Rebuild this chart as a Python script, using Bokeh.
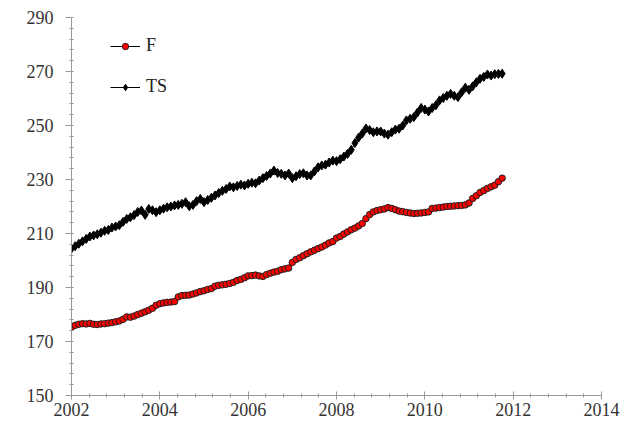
from bokeh.plotting import figure
from bokeh.models import Range1d, FixedTicker, Legend, LegendItem, ColumnDataSource
from bokeh.embed import file_html
from bokeh.resources import INLINE

start_year = 2002
x_ticks = [2002, 2004, 2006, 2008, 2010, 2012, 2014]
y_ticks = [150, 170, 190, 210, 230, 250, 270, 290]

f_values = [
    175.3, 176.0, 176.4, 176.6, 176.5, 176.7, 176.4, 176.3, 176.5, 176.6, 176.8, 177.0,
    177.3, 177.6, 178.2, 179.1, 179.0, 179.4, 180.0, 180.5, 181.0, 181.6, 182.3, 183.4,
    184.0, 184.3, 184.5, 184.6, 184.8, 186.5, 187.0, 187.1, 187.2, 187.6, 188.0, 188.5,
    188.8, 189.3, 189.6, 190.5, 190.8, 191.0, 191.2, 191.5, 191.9, 192.6, 193.0, 193.6,
    194.3, 194.4, 194.6, 194.3, 194.1, 194.8, 195.3, 195.7, 196.0, 196.6, 196.9, 197.2,
    199.3, 200.4, 201.0, 201.8, 202.5, 203.2, 203.8, 204.4, 205.0, 205.7, 206.5, 207.0,
    208.3, 208.9, 209.8, 210.6, 211.4, 212.0, 212.8, 213.7, 215.5, 217.0, 218.0, 218.5,
    218.8, 219.1, 219.6, 219.3, 218.8, 218.3, 218.1, 217.8, 217.6, 217.4, 217.5, 217.6,
    217.8, 218.0, 219.3, 219.4, 219.6, 219.8, 220.0, 220.1, 220.2, 220.3, 220.4, 220.6,
    221.3, 223.0, 224.0, 225.2, 225.9, 226.7, 227.3, 227.9, 229.2, 230.5,
]

ts_values = [
    204.4, 205.3, 206.2, 207.1, 208.0, 208.9, 209.3, 209.7, 210.3, 211.0, 211.3, 212.2,
    212.6, 213.1, 214.3, 215.4, 216.0, 216.8, 218.0, 218.5, 216.9, 219.1, 218.6, 217.9,
    218.6, 219.2, 219.7, 220.0, 220.4, 220.6, 221.0, 221.6, 220.1, 220.6, 222.0, 222.8,
    221.6, 222.4, 223.2, 224.1, 225.0, 225.8, 226.5, 227.4, 227.1, 227.6, 228.1, 227.8,
    228.4, 228.8, 228.6, 229.6, 230.5, 231.3, 232.2, 233.3, 232.4, 232.1, 231.5, 232.2,
    230.5, 231.2, 232.0, 232.3, 231.5, 231.5, 233.0, 234.5, 235.2, 235.5, 236.3, 237.0,
    236.8, 237.5, 238.5, 239.5, 241.0, 243.5, 245.5, 247.0, 248.9, 248.3, 247.5, 247.8,
    247.8, 247.0, 246.6, 247.5, 248.5, 248.8, 250.0, 251.9, 252.5, 253.1, 254.8, 256.5,
    255.9, 255.2, 256.5, 257.5, 259.3, 260.2, 261.0, 261.7, 261.0, 260.5, 262.3, 264.0,
    263.2, 264.5, 266.0, 267.3, 268.0, 268.9, 268.5, 269.0, 269.1, 269.2,
]

t = [start_year + i / 12 for i in range(len(f_values))]
src = ColumnDataSource(dict(t=t, f=f_values, ts=ts_values))

FONT = "'Liberation Serif', 'Times New Roman', serif"

p = figure(width=632, height=439, output_backend="svg", toolbar_location=None,
           x_range=Range1d(2002, 2014), y_range=Range1d(150, 290),
           min_border_left=71, min_border_right=31, min_border_top=17, min_border_bottom=44)
p.outline_line_color = None
p.xgrid.visible = False
p.ygrid.visible = False
p.background_fill_color = "white"
p.border_fill_color = "white"

x_minor = [2002 + k * 0.4 for k in range(31)]
y_minor = [150 + k * 4 for k in range(36)]
p.xaxis.ticker = FixedTicker(ticks=x_ticks, minor_ticks=x_minor)
p.yaxis.ticker = FixedTicker(ticks=y_ticks, minor_ticks=y_minor)

for ax in (p.xaxis[0], p.yaxis[0]):
    ax.axis_line_color = "#9a9a9a"
    ax.major_tick_line_color = "#9a9a9a"
    ax.minor_tick_line_color = "#9a9a9a"
    ax.major_label_text_font = FONT
    ax.major_label_text_font_size = "18px"
    ax.major_label_text_color = "#333333"

p.xaxis.major_tick_in = 4
p.xaxis.major_tick_out = 4
p.xaxis.minor_tick_in = 2
p.xaxis.minor_tick_out = 2
p.xaxis.major_label_standoff = 3
p.yaxis.major_tick_in = 0
p.yaxis.major_tick_out = 6
p.yaxis.minor_tick_in = 2
p.yaxis.minor_tick_out = 2
p.yaxis.major_label_standoff = 12

l_f = p.line("t", "f", source=src, line_color="black", line_width=1)
s_f = p.scatter("t", "f", source=src, marker="circle", size=6.5,
                fill_color="#ff0000", line_color="#202020", line_width=1)
l_ts = p.line("t", "ts", source=src, line_color="black", line_width=1)
s_ts = p.scatter("t", "ts", source=src, marker="diamond", size=9,
                 fill_color="black", line_color="black", line_width=1)

legend = Legend(items=[LegendItem(label="F", renderers=[l_f, s_f]),
                       LegendItem(label="TS", renderers=[l_ts, s_ts])],
                location=(39, 298), padding=0, margin=0, spacing=20,
                glyph_width=30, glyph_height=16, label_height=20, label_standoff=6,
                label_text_font=FONT, label_text_font_size="18px",
                label_text_color="#222222",
                border_line_color=None, background_fill_alpha=0)
p.add_layout(legend)

open("out.html", "w").write(file_html(p, INLINE))
